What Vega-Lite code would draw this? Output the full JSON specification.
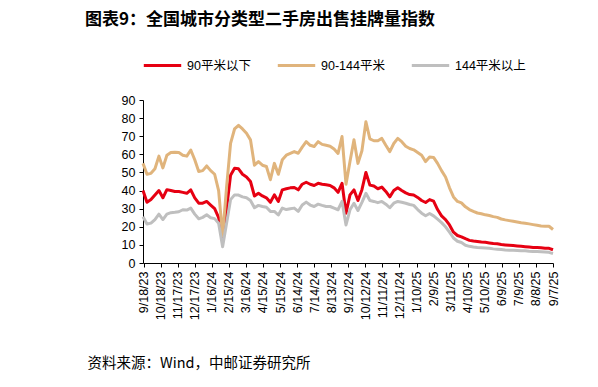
{
  "$schema": "https://vega.github.io/schema/vega-lite/v6.json",
  "width": 410,
  "height": 163,
  "autosize": "none",
  "padding": {"left": 143, "top": 100, "right": 45, "bottom": 124},
  "background": "white",
  "title": {
    "text": "图表9：全国城市分类型二手房出售挂牌量指数",
    "anchor": "start",
    "frame": "group",
    "dx": -58,
    "font": "Noto Sans CJK SC",
    "fontSize": 17,
    "fontWeight": "bold",
    "color": "#000000",
    "offset": 16
  },
  "data": {
    "values": [
      {"d": "2023-09-17", "r": 40, "o": 55, "g": 25.5},
      {"d": "2023-09-24", "r": 33.5, "o": 49, "g": 21.5},
      {"d": "2023-10-01", "r": 35, "o": 49.5, "g": 22},
      {"d": "2023-10-08", "r": 37.5, "o": 52, "g": 24},
      {"d": "2023-10-15", "r": 40, "o": 59, "g": 27},
      {"d": "2023-10-22", "r": 36, "o": 52.5, "g": 24},
      {"d": "2023-10-29", "r": 40.5, "o": 59.5, "g": 27},
      {"d": "2023-11-05", "r": 40, "o": 61, "g": 27.8},
      {"d": "2023-11-12", "r": 39.5, "o": 61.2, "g": 28},
      {"d": "2023-11-19", "r": 39.5, "o": 61, "g": 28.3},
      {"d": "2023-11-26", "r": 39, "o": 59.5, "g": 29.4},
      {"d": "2023-12-03", "r": 38.5, "o": 59, "g": 29.2},
      {"d": "2023-12-10", "r": 40.4, "o": 62.4, "g": 30.3},
      {"d": "2023-12-17", "r": 36, "o": 57, "g": 27},
      {"d": "2023-12-24", "r": 33, "o": 50.5, "g": 24.4},
      {"d": "2023-12-31", "r": 33, "o": 51, "g": 25.2},
      {"d": "2024-01-07", "r": 34, "o": 53.6, "g": 26.6},
      {"d": "2024-01-14", "r": 32, "o": 51, "g": 25},
      {"d": "2024-01-21", "r": 30, "o": 49, "g": 24.5},
      {"d": "2024-01-28", "r": 25, "o": 40, "g": 22},
      {"d": "2024-02-04", "r": 12.5, "o": 15, "g": 9},
      {"d": "2024-02-11", "r": 30, "o": 42, "g": 22},
      {"d": "2024-02-18", "r": 48.5, "o": 66, "g": 35},
      {"d": "2024-02-25", "r": 52.3, "o": 74, "g": 37.6},
      {"d": "2024-03-03", "r": 52, "o": 76, "g": 37.5},
      {"d": "2024-03-10", "r": 49, "o": 74, "g": 36.5},
      {"d": "2024-03-17", "r": 47.5, "o": 71.6, "g": 36},
      {"d": "2024-03-24", "r": 45, "o": 68, "g": 34.5},
      {"d": "2024-03-31", "r": 37, "o": 54, "g": 30.5},
      {"d": "2024-04-07", "r": 38.5, "o": 56, "g": 31.8},
      {"d": "2024-04-14", "r": 37, "o": 54, "g": 31.2},
      {"d": "2024-04-21", "r": 36, "o": 53.3, "g": 30.8},
      {"d": "2024-04-28", "r": 33.5, "o": 46, "g": 28.5},
      {"d": "2024-05-05", "r": 37.6, "o": 55, "g": 28.5},
      {"d": "2024-05-12", "r": 34, "o": 49, "g": 26.5},
      {"d": "2024-05-19", "r": 40.4, "o": 57, "g": 30.3},
      {"d": "2024-05-26", "r": 41, "o": 59.5, "g": 29.5},
      {"d": "2024-06-02", "r": 41.5, "o": 60.5, "g": 30},
      {"d": "2024-06-09", "r": 41.7, "o": 61.5, "g": 30.3},
      {"d": "2024-06-16", "r": 40.4, "o": 60.6, "g": 28.5},
      {"d": "2024-06-23", "r": 43.5, "o": 64, "g": 32},
      {"d": "2024-06-30", "r": 44.6, "o": 67, "g": 33.6},
      {"d": "2024-07-07", "r": 43.5, "o": 65, "g": 32},
      {"d": "2024-07-14", "r": 42.8, "o": 64.3, "g": 31.2},
      {"d": "2024-07-21", "r": 44, "o": 67, "g": 32.5},
      {"d": "2024-07-28", "r": 43.5, "o": 65.5, "g": 31.8},
      {"d": "2024-08-04", "r": 43.2, "o": 65, "g": 31.2},
      {"d": "2024-08-11", "r": 42.8, "o": 64.5, "g": 31.2},
      {"d": "2024-08-18", "r": 41.5, "o": 63, "g": 30.3},
      {"d": "2024-08-25", "r": 39, "o": 60.5, "g": 29.4},
      {"d": "2024-09-01", "r": 44, "o": 69.8, "g": 34},
      {"d": "2024-09-08", "r": 27.5, "o": 43.5, "g": 21},
      {"d": "2024-09-15", "r": 37.6, "o": 56, "g": 29.4},
      {"d": "2024-09-22", "r": 40.4, "o": 68, "g": 33},
      {"d": "2024-09-29", "r": 34.5, "o": 55, "g": 29},
      {"d": "2024-10-06", "r": 40.5, "o": 62, "g": 33.5},
      {"d": "2024-10-13", "r": 50, "o": 78, "g": 38.5},
      {"d": "2024-10-20", "r": 43, "o": 68.5, "g": 34.5},
      {"d": "2024-10-27", "r": 42.5, "o": 67.5, "g": 34},
      {"d": "2024-11-03", "r": 41, "o": 67.5, "g": 33.3},
      {"d": "2024-11-10", "r": 41.9, "o": 68.8, "g": 34},
      {"d": "2024-11-17", "r": 39.5, "o": 65, "g": 32.5},
      {"d": "2024-11-24", "r": 36.5, "o": 61.5, "g": 30.5},
      {"d": "2024-12-01", "r": 40, "o": 66, "g": 33},
      {"d": "2024-12-08", "r": 41.5, "o": 68.8, "g": 34},
      {"d": "2024-12-15", "r": 40, "o": 67, "g": 33.5},
      {"d": "2024-12-22", "r": 38.7, "o": 64.5, "g": 33},
      {"d": "2024-12-29", "r": 37.8, "o": 63.2, "g": 32.3},
      {"d": "2025-01-05", "r": 37.5, "o": 62.5, "g": 31.8},
      {"d": "2025-01-12", "r": 36.2, "o": 61, "g": 29.5},
      {"d": "2025-01-19", "r": 34.5, "o": 59.5, "g": 27.5},
      {"d": "2025-01-26", "r": 33.4, "o": 56, "g": 26.1},
      {"d": "2025-02-02", "r": 35, "o": 58.5, "g": 27.3},
      {"d": "2025-02-09", "r": 34.2, "o": 58.3, "g": 26},
      {"d": "2025-02-16", "r": 29.5, "o": 55, "g": 24.2},
      {"d": "2025-02-23", "r": 26, "o": 51, "g": 22.3},
      {"d": "2025-03-02", "r": 24, "o": 47.5, "g": 20},
      {"d": "2025-03-09", "r": 21, "o": 41.5, "g": 17},
      {"d": "2025-03-16", "r": 17, "o": 36.5, "g": 13.8},
      {"d": "2025-03-23", "r": 15.2, "o": 34, "g": 12},
      {"d": "2025-03-30", "r": 14.4, "o": 33.2, "g": 11.3},
      {"d": "2025-04-06", "r": 13.4, "o": 31, "g": 9.8},
      {"d": "2025-04-13", "r": 12.5, "o": 29.5, "g": 9.2},
      {"d": "2025-04-20", "r": 12.1, "o": 28.5, "g": 8.8},
      {"d": "2025-04-27", "r": 11.9, "o": 27.6, "g": 8.5},
      {"d": "2025-05-04", "r": 11.6, "o": 27.2, "g": 8.4},
      {"d": "2025-05-11", "r": 11.4, "o": 26.6, "g": 8.3},
      {"d": "2025-05-18", "r": 11.1, "o": 26.2, "g": 8.1},
      {"d": "2025-05-25", "r": 10.8, "o": 25.6, "g": 7.8},
      {"d": "2025-06-01", "r": 10.6, "o": 25.2, "g": 7.6},
      {"d": "2025-06-08", "r": 10.2, "o": 24.3, "g": 7.4},
      {"d": "2025-06-15", "r": 10, "o": 23.8, "g": 7.2},
      {"d": "2025-06-22", "r": 9.8, "o": 23.4, "g": 7.1},
      {"d": "2025-06-29", "r": 9.6, "o": 23, "g": 7},
      {"d": "2025-07-06", "r": 9.4, "o": 22.6, "g": 6.9},
      {"d": "2025-07-13", "r": 9.2, "o": 22.2, "g": 6.8},
      {"d": "2025-07-20", "r": 9, "o": 22, "g": 6.7},
      {"d": "2025-07-27", "r": 8.8, "o": 21.6, "g": 6.5},
      {"d": "2025-08-03", "r": 8.6, "o": 21.2, "g": 6.4},
      {"d": "2025-08-10", "r": 8.5, "o": 20.8, "g": 6.3},
      {"d": "2025-08-17", "r": 8.4, "o": 20.4, "g": 6.2},
      {"d": "2025-08-24", "r": 8.2, "o": 20.3, "g": 6.1},
      {"d": "2025-08-31", "r": 8.1, "o": 20.3, "g": 5.9},
      {"d": "2025-09-07", "r": 7.3, "o": 18.5, "g": 5.2}
    ]
  },
  "transform": [
    {"fold": ["r", "o", "g"], "as": ["series", "value"]}
  ],
  "mark": {"type": "line", "strokeWidth": 3, "strokeJoin": "round", "strokeCap": "butt"},
  "encoding": {
    "x": {
      "field": "d",
      "type": "temporal",
      "scale": {
        "type": "utc",
        "domain": [
          {"year": 2023, "month": 9, "date": 17, "utc": true},
          {"year": 2025, "month": 9, "date": 7, "utc": true}
        ]
      },
      "axis": {
        "values": [
          {"year": 2023, "month": 9, "date": 18, "utc": true},
          {"year": 2023, "month": 10, "date": 18, "utc": true},
          {"year": 2023, "month": 11, "date": 17, "utc": true},
          {"year": 2023, "month": 12, "date": 17, "utc": true},
          {"year": 2024, "month": 1, "date": 16, "utc": true},
          {"year": 2024, "month": 2, "date": 15, "utc": true},
          {"year": 2024, "month": 3, "date": 16, "utc": true},
          {"year": 2024, "month": 4, "date": 15, "utc": true},
          {"year": 2024, "month": 5, "date": 15, "utc": true},
          {"year": 2024, "month": 6, "date": 14, "utc": true},
          {"year": 2024, "month": 7, "date": 14, "utc": true},
          {"year": 2024, "month": 8, "date": 13, "utc": true},
          {"year": 2024, "month": 9, "date": 12, "utc": true},
          {"year": 2024, "month": 10, "date": 12, "utc": true},
          {"year": 2024, "month": 11, "date": 11, "utc": true},
          {"year": 2024, "month": 12, "date": 11, "utc": true},
          {"year": 2025, "month": 1, "date": 10, "utc": true},
          {"year": 2025, "month": 2, "date": 9, "utc": true},
          {"year": 2025, "month": 3, "date": 11, "utc": true},
          {"year": 2025, "month": 4, "date": 10, "utc": true},
          {"year": 2025, "month": 5, "date": 10, "utc": true},
          {"year": 2025, "month": 6, "date": 9, "utc": true},
          {"year": 2025, "month": 7, "date": 9, "utc": true},
          {"year": 2025, "month": 8, "date": 8, "utc": true},
          {"year": 2025, "month": 9, "date": 7, "utc": true}
        ],
        "format": "%-m/%-d/%y",
        "labelAngle": 270,
        "labelOverlap": false,
        "labelFlush": false,
        "labelBound": false,
        "labelFont": "Liberation Sans",
        "labelFontSize": 12.5,
        "labelColor": "#000000",
        "labelPadding": 4,
        "grid": false,
        "domainColor": "#000000",
        "tickColor": "#000000",
        "tickSize": 4,
        "title": "资料来源：Wind，中邮证券研究所",
        "titleFont": "Noto Sans CJK SC",
        "titleFontSize": 14.5,
        "titleFontWeight": "normal",
        "titleColor": "#000000",
        "titleAnchor": "start",
        "titleAlign": "left",
        "titleBaseline": "middle",
        "titleX": -56,
        "titleY": 100
      }
    },
    "y": {
      "field": "value",
      "type": "quantitative",
      "scale": {"domain": [0, 90], "nice": false},
      "axis": {
        "values": [0, 10, 20, 30, 40, 50, 60, 70, 80, 90],
        "title": null,
        "grid": false,
        "labelFont": "Liberation Sans",
        "labelFontSize": 12.5,
        "labelColor": "#000000",
        "labelPadding": 4,
        "domainColor": "#000000",
        "tickColor": "#000000",
        "tickSize": 4
      }
    },
    "color": {
      "field": "series",
      "type": "nominal",
      "sort": ["r", "o", "g"],
      "scale": {"domain": ["r", "o", "g"], "range": ["#E60012", "#E0B47C", "#BFBFBF"]},
      "legend": {
        "orient": "none",
        "legendX": -1,
        "legendY": -55,
        "direction": "horizontal",
        "columns": 3,
        "gridAlign": "all",
        "columnPadding": 13,
        "title": null,
        "symbolType": "stroke",
        "symbolStrokeWidth": 3,
        "symbolSize": 1400,
        "labelOffset": 4,
        "labelFont": "Liberation Sans, Noto Sans CJK SC",
        "labelFontSize": 12.5,
        "labelColor": "#000000",
        "labelLimit": 200,
        "labelExpr": "datum.value == 'r' ? '90平米以下' : datum.value == 'o' ? '90-144平米' : '144平米以上'"
      }
    }
  },
  "config": {
    "view": {"stroke": null}
  }
}
